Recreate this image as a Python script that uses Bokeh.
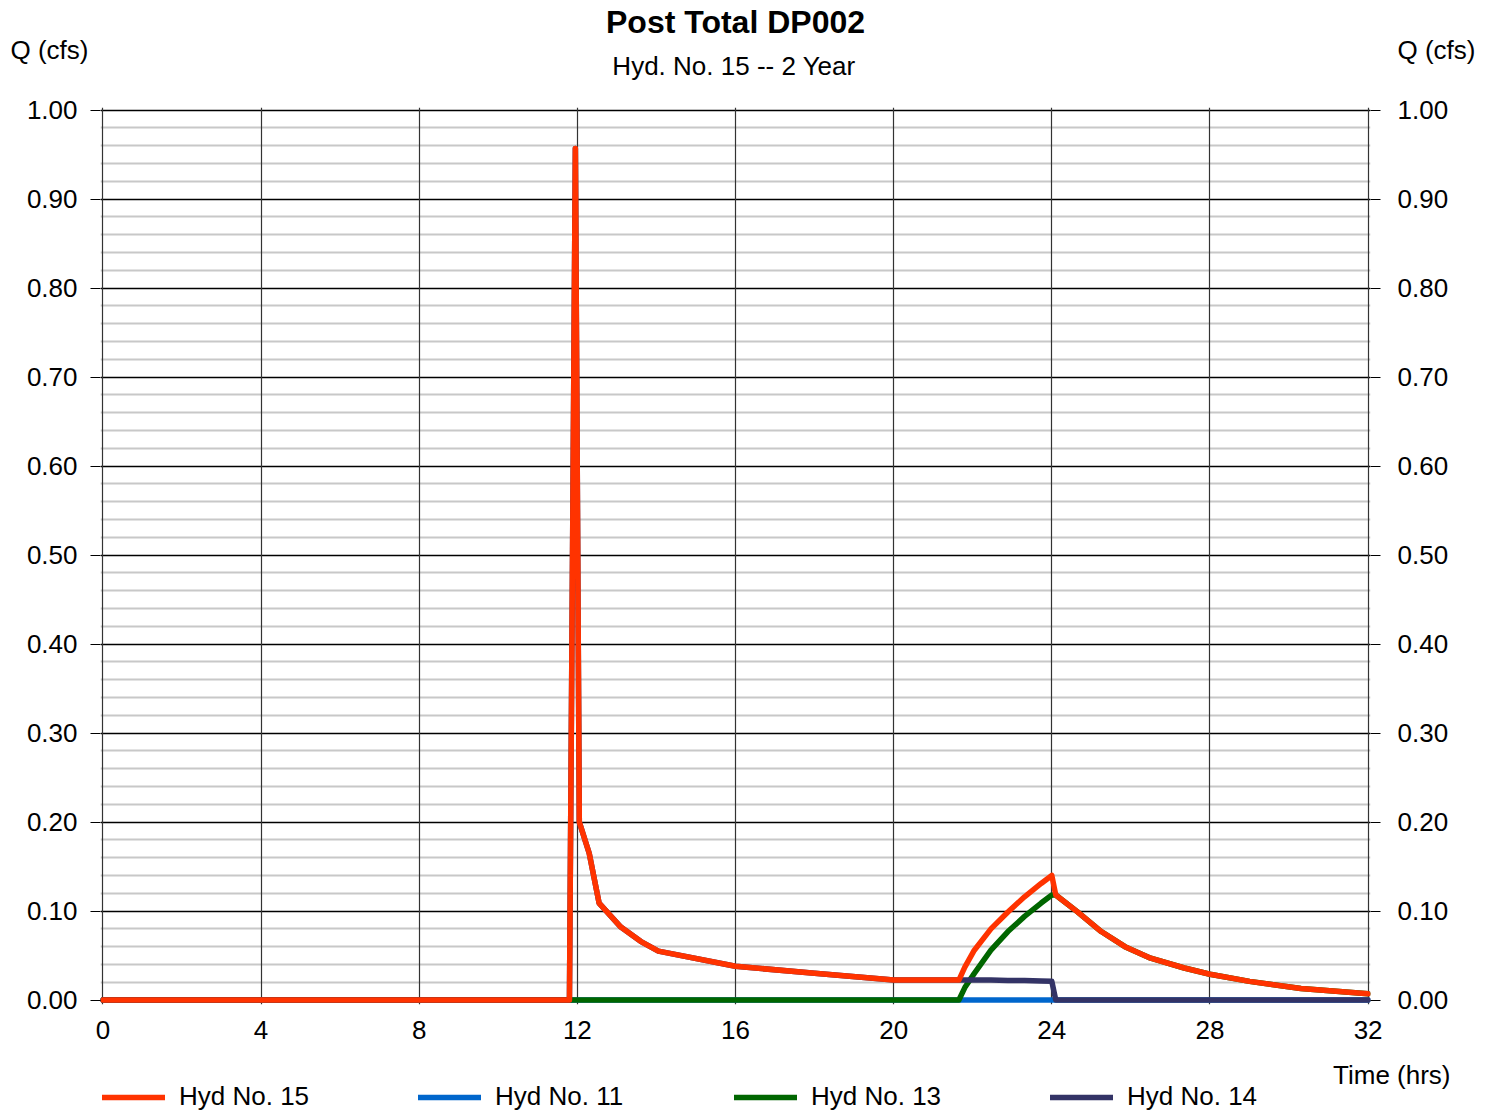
from bokeh.plotting import figure
from bokeh.layouts import column
from bokeh.models import Range1d, LinearAxis, FixedTicker, Legend, LegendItem, NumeralTickFormatter
from bokeh.core.properties import value
from bokeh.embed import file_html
from bokeh.resources import INLINE

# ---------------- data ----------------
time_hrs = [0.0, 11.7, 11.8, 11.95, 12.05, 12.3, 12.55, 13.1, 13.6, 14.05,
            16.0, 18.0, 20.0, 21.65, 21.8, 22.04, 22.46, 22.89, 23.31, 23.73,
            24.0, 24.1, 24.65, 25.25, 25.85, 26.5, 27.35, 28.0, 29.0, 30.3,
            32.0]

hyd15 = [0.0, 0.0, 0.0, 0.957, 0.200, 0.165, 0.109, 0.082, 0.066, 0.055,
         0.038, 0.030, 0.0225, 0.0225, 0.037, 0.056, 0.080, 0.099, 0.116, 0.131,
         0.140, 0.118, 0.099, 0.077, 0.060, 0.047, 0.036, 0.029, 0.021, 0.013,
         0.007]

hyd11 = [0.0, 0.0, 0.0, 0.0, 0.0, 0.0, 0.0, 0.0, 0.0, 0.0,
         0.0, 0.0, 0.0, 0.0, 0.0, 0.0, 0.0, 0.0, 0.0, 0.0,
         0.0, 0.0, 0.0, 0.0, 0.0, 0.0, 0.0, 0.0, 0.0, 0.0,
         0.0]

hyd13 = [0.0, 0.0, 0.0, 0.0, 0.0, 0.0, 0.0, 0.0, 0.0, 0.0,
         0.0, 0.0, 0.0, 0.0, 0.014, 0.030, 0.056, 0.077, 0.094, 0.109,
         0.118, 0.118, 0.099, 0.077, 0.060, 0.047, 0.036, 0.029, 0.021, 0.013,
         0.007]

hyd14 = [0.0, 0.0, 0.0, 0.957, 0.200, 0.165, 0.109, 0.082, 0.066, 0.055,
         0.038, 0.030, 0.0225, 0.0225, 0.0225, 0.0225, 0.0225, 0.022, 0.022, 0.0215,
         0.021, 0.0, 0.0, 0.0, 0.0, 0.0, 0.0, 0.0, 0.0, 0.0,
         0.0]

x_ticks = [0, 4, 8, 12, 16, 20, 24, 28, 32]
y_ticks = [0.0, 0.1, 0.2, 0.3, 0.4, 0.5, 0.6, 0.7, 0.8, 0.9, 1.0]
y_minor = [round(0.02 * i, 2) for i in range(51) if i % 5 != 0]

title_text = "Post Total DP002"
subtitle_text = "Hyd. No. 15 -- 2 Year"
y_label = "Q (cfs)"
x_label = "Time (hrs)"
names = ["Hyd No. 15", "Hyd No. 11", "Hyd No. 13", "Hyd No. 14"]
colors = {"15": "#FF3300", "11": "#0066CC", "13": "#006600", "14": "#333366"}
series = [("15", hyd15), ("11", hyd11), ("13", hyd13), ("14", hyd14)]

FONT = "Liberation Sans"
W = 1494
HEADER_H = 95
MAIN_H = 965
FOOTER_H = 1112 - HEADER_H - MAIN_H
LW = 5.5
line_kw = dict(line_width=LW, line_cap="round", line_join="round")


def blank(height, y_top):
    f = figure(width=W, height=height, output_backend="svg", toolbar_location=None,
               x_axis_type=None, y_axis_type=None, frame_align=False,
               x_range=Range1d(0, W), y_range=Range1d(y_top + height, y_top),
               min_border=0, min_border_left=0, min_border_right=0,
               min_border_top=0, min_border_bottom=0)
    f.outline_line_color = None
    f.background_fill_color = "white"
    f.border_fill_color = "white"
    return f


# ---------------- header: titles ----------------
header = blank(HEADER_H, 0)
header.text(x=[735], y=[21.5], text=[title_text], text_font=value(FONT), text_font_size=value("32px"),
            text_font_style="bold", text_align="center", text_baseline="alphabetic", text_color="black")
header.text(x=[733.5], y=[65], text=[subtitle_text], text_font=value(FONT), text_font_size=value("26px"),
            text_align="center", text_baseline="alphabetic", text_color="black")
header.text(x=[10, 1397], y=[49.5, 49.5], text=[y_label, y_label], text_font=value(FONT),
            text_font_size=value("26px"), text_align="left", text_baseline="alphabetic", text_color="black")

# ---------------- main chart ----------------
X0, X1 = -0.06, 32.06
Y0, Y1 = -0.005, 1.003
p = figure(width=W, height=MAIN_H, output_backend="svg", toolbar_location=None, frame_align=False,
           x_range=Range1d(X0, X1), y_range=Range1d(Y0, Y1),
           min_border_left=100, min_border_right=124, min_border_top=12, min_border_bottom=56)
p.outline_line_color = None
p.background_fill_color = "white"
p.border_fill_color = "white"

p.xaxis.ticker = FixedTicker(ticks=x_ticks)
p.xaxis.axis_line_color = None
p.xaxis.major_tick_out = 0
p.xaxis.major_tick_in = 0
p.xaxis.minor_tick_out = 0
p.xaxis.minor_tick_in = 0
p.xaxis.major_label_standoff = 16
p.xaxis.major_label_text_font = FONT
p.xaxis.major_label_text_font_size = "26px"
p.xaxis.major_label_text_color = "black"

yticker = FixedTicker(ticks=y_ticks, minor_ticks=y_minor)
right_axis = LinearAxis()
p.add_layout(right_axis, "right")
for ax, standoff in ((p.yaxis[0], 13), (right_axis, 17)):
    ax.ticker = yticker
    ax.formatter = NumeralTickFormatter(format="0.00")
    ax.axis_line_color = None
    ax.major_tick_out = 10
    ax.major_tick_in = 0
    ax.major_tick_line_color = "black"
    ax.major_tick_line_width = 1
    ax.minor_tick_out = 0
    ax.minor_tick_in = 0
    ax.major_label_standoff = standoff
    ax.major_label_text_font = FONT
    ax.major_label_text_font_size = "26px"
    ax.major_label_text_color = "black"

p.xgrid.grid_line_color = "#333333"
p.xgrid.grid_line_width = 1.2
p.ygrid.grid_line_color = "black"
p.ygrid.grid_line_width = 1.4
p.ygrid.minor_grid_line_color = "#C8C8C8"
p.ygrid.minor_grid_line_width = 2
p.center = [p.ygrid[0], p.xgrid[0]] + [r for r in p.center if r not in (p.ygrid[0], p.xgrid[0])]

# drawing order: blue, green, navy, red on top
for key, vals in (("11", hyd11), ("13", hyd13), ("14", hyd14), ("15", hyd15)):
    p.line(time_hrs, vals, line_color=colors[key], **line_kw)

# ---------------- footer: axis title and legend ----------------
footer = blank(FOOTER_H, HEADER_H + MAIN_H)
footer.text(x=[1450], y=[1074], text=[x_label], text_font=value(FONT), text_font_size=value("26px"),
            text_align="right", text_baseline="alphabetic", text_color="black")
# legend swatch renderers: same series, out of this strip's visible range
items = []
for (key, vals), name in zip(series, names):
    r = footer.line(time_hrs, vals, line_color=colors[key], **line_kw)
    items.append(LegendItem(label=name, renderers=[r]))
legend = Legend(items=items, orientation="horizontal", location=(102, 0),
                glyph_width=63, glyph_height=30, label_height=30, label_width=239,
                label_standoff=14, spacing=0, padding=0, margin=0,
                border_line_color=None, background_fill_alpha=0,
                label_text_font=FONT, label_text_font_size="26px", label_text_color="black")
footer.add_layout(legend, "center")

layout = column(header, p, footer, spacing=0)
open("out.html", "w").write(file_html(layout, INLINE))
